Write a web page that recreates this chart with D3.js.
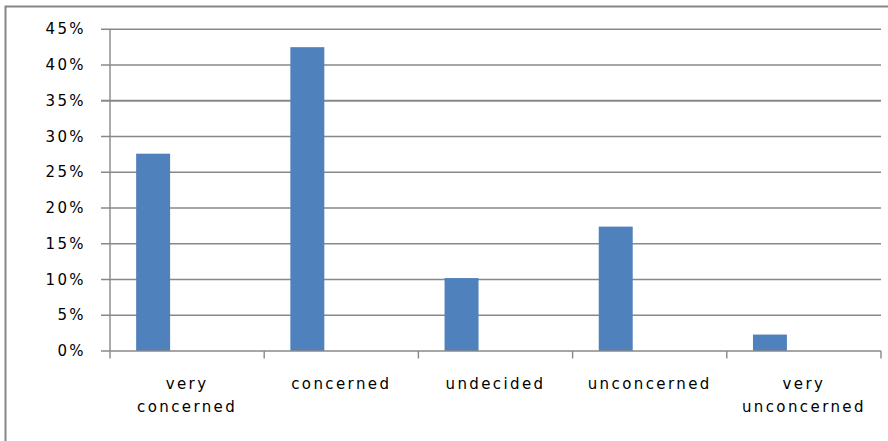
<!DOCTYPE html>
<html>
<head>
<meta charset="utf-8">
<script src="https://cdn.jsdelivr.net/npm/d3@7"></script>
<style>
  html, body { margin: 0; padding: 0; background: #fff; }
  svg { display: block; }
  .lbl { font-family: "DejaVu Sans", sans-serif; font-size: 15px; fill: #000; letter-spacing: 2.4px; }
</style>
</head>
<body>
<svg id="chart" width="888" height="441"></svg>
<script>
// Survey responses: share of respondents per level of concern
const categories = ["very concerned", "concerned", "undecided", "unconcerned", "very unconcerned"];
const shares = [0.276, 0.425, 0.102, 0.174, 0.023];
// The chart reserves three series slots per category; only the first carries data
const seriesSlots = ["s1", "s2", "s3"];
const yTicks = [0, 0.05, 0.10, 0.15, 0.20, 0.25, 0.30, 0.35, 0.40, 0.45];

const svg = d3.select("#chart");
const W = 888, H = 441;
const plot = { left: 110, right: 881, top: 29.3, bottom: 351 };
const gridColor = "#888888";

// outer chart frame (top and left edges fall inside the view)
svg.append("rect")
  .attr("x", 5.5).attr("y", 6.5)
  .attr("width", W + 10).attr("height", H + 10)
  .attr("fill", "none").attr("stroke", "#868686").attr("stroke-width", 2);

const x0 = d3.scaleBand().domain(categories).range([plot.left, plot.right]).padding(0);
const x1 = d3.scaleBand().domain(seriesSlots).range([0, x0.bandwidth()])
  .paddingInner(0).paddingOuter(0.77);
const y = d3.scaleLinear().domain([0, 0.45]).range([plot.bottom, plot.top]);

// horizontal gridlines with their tick stubs on the left
svg.append("g").selectAll("line").data(yTicks.filter(d => d > 0)).join("line")
  .attr("x1", plot.left - 9).attr("x2", plot.right)
  .attr("y1", d => y(d)).attr("y2", d => y(d))
  .attr("stroke", gridColor).attr("stroke-width", d => Math.abs(d - 0.35) < 1e-9 ? 2 : 1.4);

// y axis labels
const yFmt = d3.format(".0%");
svg.append("g").selectAll("text").data(yTicks).join("text")
  .attr("class", "lbl")
  .attr("x", 86).attr("y", d => y(d))
  .attr("text-anchor", "end").attr("dominant-baseline", "central")
  .text(d => yFmt(d));

// bars
svg.append("g").selectAll("rect").data(categories).join("rect")
  .attr("x", (c) => x0(c) + x1("s1"))
  .attr("width", x1.bandwidth())
  .attr("y", (c, i) => y(shares[i]))
  .attr("height", (c, i) => y(0) - y(shares[i]))
  .attr("fill", "#4F81BD");

// y axis line
svg.append("line")
  .attr("x1", plot.left).attr("x2", plot.left)
  .attr("y1", plot.top).attr("y2", plot.bottom)
  .attr("stroke", gridColor).attr("stroke-width", 1.4);

// category axis line and boundary ticks
svg.append("line")
  .attr("x1", plot.left - 9).attr("x2", plot.right)
  .attr("y1", plot.bottom).attr("y2", plot.bottom)
  .attr("stroke", gridColor).attr("stroke-width", 1.4);
const bounds = categories.map(c => x0(c)).concat([plot.right]);
svg.append("g").selectAll("line").data(bounds).join("line")
  .attr("x1", d => d).attr("x2", d => d)
  .attr("y1", plot.bottom).attr("y2", plot.bottom + 7.5)
  .attr("stroke", gridColor).attr("stroke-width", 1.4);

// category labels, wrapped onto separate lines per word for multi-word names
const labels = svg.append("g").selectAll("text").data(categories).join("text")
  .attr("class", "lbl")
  .attr("text-anchor", "middle")
  .attr("x", c => x0(c) + x0.bandwidth() / 2)
  .attr("y", 389);
labels.each(function (c) {
  const words = c.split(" ");
  const t = d3.select(this);
  words.forEach((w, i) => {
    t.append("tspan")
      .attr("x", x0(c) + x0.bandwidth() / 2)
      .attr("dy", i === 0 ? 0 : 23)
      .text(w);
  });
});
</script>
</body>
</html>
